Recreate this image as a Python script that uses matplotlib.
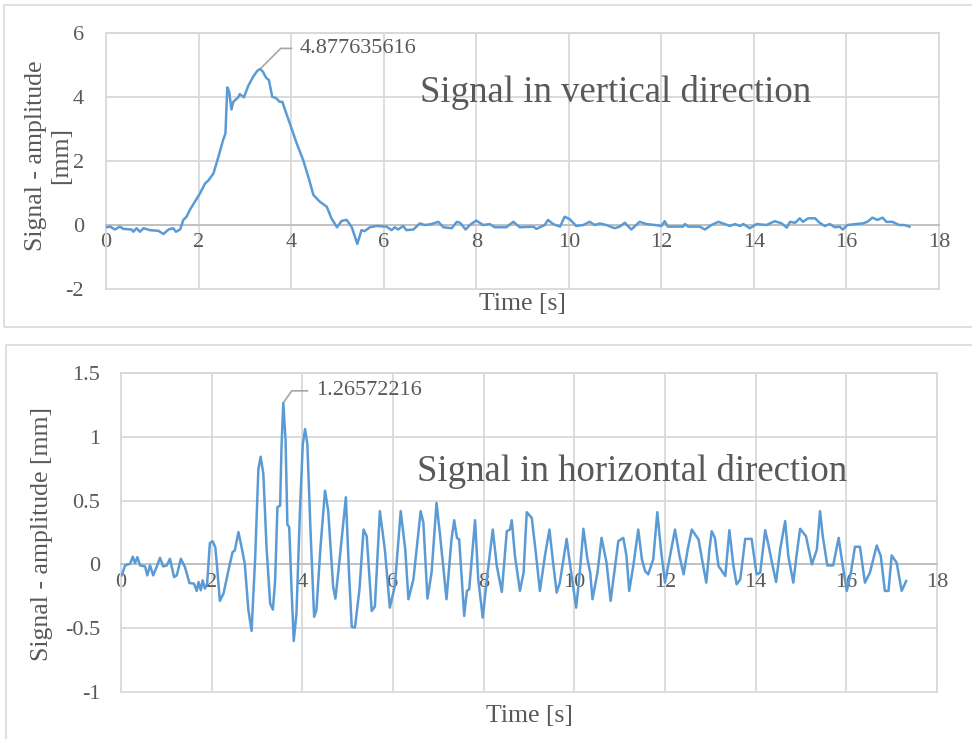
import matplotlib.pyplot as plt
from matplotlib.patches import Rectangle

plt.rcParams['font.family'] = 'Liberation Serif'
plt.rcParams['axes.unicode_minus'] = False

# vertical signal (time [s], amplitude [mm])
t_vert = [0.0, 0.09, 0.19, 0.3, 0.37, 0.55, 0.59, 0.66, 0.73, 0.81, 0.95, 1.13, 1.24, 1.35,
          1.45, 1.51, 1.6, 1.67, 1.74, 1.81, 1.92, 2.03, 2.14, 2.21, 2.32, 2.43, 2.53, 2.58,
          2.62, 2.66, 2.71, 2.75, 2.86, 2.89, 2.98, 3.07, 3.18, 3.27, 3.33, 3.39, 3.46, 3.52,
          3.59, 3.68, 3.75, 3.81, 3.87, 3.97, 4.12, 4.26, 4.39, 4.48, 4.62, 4.77, 4.87, 4.99,
          5.09, 5.2, 5.31, 5.43, 5.52, 5.59, 5.7, 5.85, 6.06, 6.17, 6.24, 6.31, 6.42, 6.49,
          6.64, 6.78, 6.89, 7.03, 7.18, 7.29, 7.47, 7.58, 7.65, 7.77, 7.86, 8.0, 8.15, 8.29,
          8.4, 8.65, 8.8, 8.94, 9.23, 9.3, 9.48, 9.55, 9.66, 9.81, 9.91, 10.02, 10.16, 10.31,
          10.45, 10.56, 10.67, 10.81, 10.99, 11.1, 11.21, 11.35, 11.53, 11.68, 11.86, 12.0,
          12.07, 12.14, 12.47, 12.51, 12.58, 12.83, 12.94, 13.08, 13.23, 13.37, 13.48, 13.59,
          13.7, 13.77, 13.91, 14.06, 14.27, 14.45, 14.6, 14.71, 14.78, 14.89, 14.99, 15.06,
          15.17, 15.32, 15.42, 15.53, 15.64, 15.75, 15.85, 15.92, 16.02, 16.2, 16.35, 16.45,
          16.56, 16.67, 16.78, 16.86, 16.99, 17.14, 17.25, 17.36]
a_vert = [-0.07, -0.05, -0.14, -0.05, -0.12, -0.14, -0.21, -0.1, -0.21, -0.1, -0.16, -0.18,
          -0.28, -0.14, -0.1, -0.21, -0.14, 0.16, 0.26, 0.47, 0.73, 0.99, 1.3, 1.39, 1.61,
          2.14, 2.66, 2.86, 4.3, 4.17, 3.61, 3.85, 4.0, 4.09, 3.99, 4.34, 4.64, 4.82,
          4.877635616, 4.79, 4.6, 4.53, 4.01, 3.96, 3.85, 3.85, 3.59, 3.18, 2.55, 2.03, 1.41,
          0.94, 0.73, 0.57, 0.21, -0.07, 0.13, 0.16, -0.07, -0.59, -0.16, -0.19, -0.07, -0.03,
          -0.05, -0.16, -0.07, -0.14, -0.03, -0.16, -0.14, 0.05, 0.0, 0.03, 0.1, -0.07, -0.1,
          0.1, 0.07, -0.14, 0.0, 0.14, 0.0, 0.03, -0.07, -0.07, 0.1, -0.07, -0.05, -0.12, 0.0,
          0.16, 0.03, -0.05, 0.26, 0.18, -0.03, 0.0, 0.1, 0.0, 0.05, 0.0, -0.1, -0.05, 0.07,
          -0.14, 0.1, 0.03, 0.0, -0.03, 0.12, -0.05, -0.05, 0.03, -0.05, -0.05, -0.14, 0.0,
          0.1, 0.03, -0.03, 0.03, -0.03, 0.03, -0.1, 0.03, 0.0, 0.12, 0.05, -0.08, 0.1, 0.07,
          0.21, 0.1, 0.21, 0.21, 0.07, -0.03, 0.03, -0.07, -0.05, -0.14, 0.0, 0.03, 0.05, 0.1,
          0.23, 0.16, 0.23, 0.1, 0.1, 0.0, 0.0, -0.05]

# horizontal signal (time [s], amplitude [mm])
t_hor = [0.015, 0.09, 0.2, 0.26, 0.31, 0.36, 0.42, 0.53, 0.58, 0.64, 0.71, 0.79, 0.86, 0.93,
         1.01, 1.08, 1.17, 1.23, 1.32, 1.41, 1.51, 1.61, 1.67, 1.71, 1.76, 1.8, 1.85, 1.9,
         1.96, 2.02, 2.08, 2.12, 2.18, 2.26, 2.37, 2.46, 2.51, 2.59, 2.66, 2.73, 2.81, 2.88,
         2.96, 3.03, 3.08, 3.14, 3.21, 3.29, 3.35, 3.4, 3.45, 3.51, 3.54, 3.58, 3.63, 3.67,
         3.71, 3.76, 3.81, 3.87, 3.95, 4.01, 4.06, 4.11, 4.18, 4.26, 4.31, 4.4, 4.5, 4.57,
         4.68, 4.73, 4.82, 4.96, 5.03, 5.09, 5.16, 5.26, 5.35, 5.42, 5.53, 5.6, 5.71, 5.82,
         5.93, 6.04, 6.17, 6.27, 6.34, 6.45, 6.61, 6.67, 6.76, 6.85, 6.96, 7.04, 7.18, 7.29,
         7.35, 7.41, 7.46, 7.57, 7.63, 7.68, 7.81, 7.88, 7.98, 8.07, 8.2, 8.29, 8.4, 8.51,
         8.58, 8.62, 8.69, 8.8, 8.88, 8.95, 9.06, 9.15, 9.24, 9.35, 9.45, 9.54, 9.61, 9.68,
         9.83, 9.9, 10.04, 10.12, 10.2, 10.29, 10.35, 10.4, 10.51, 10.6, 10.71, 10.8, 10.9,
         10.97, 11.08, 11.15, 11.21, 11.3, 11.41, 11.49, 11.56, 11.63, 11.74, 11.83, 11.91,
         12.0, 12.11, 12.22, 12.32, 12.41, 12.5, 12.59, 12.74, 12.83, 12.91, 12.98, 13.03,
         13.1, 13.18, 13.33, 13.42, 13.51, 13.58, 13.66, 13.77, 13.91, 14.02, 14.1, 14.21,
         14.28, 14.36, 14.45, 14.54, 14.65, 14.72, 14.83, 14.9, 14.98, 15.11, 15.24, 15.35,
         15.42, 15.48, 15.58, 15.71, 15.83, 15.9, 16.01, 16.1, 16.19, 16.3, 16.41, 16.52,
         16.67, 16.76, 16.85, 16.93, 17.0, 17.11, 17.22, 17.32]
a_hor = [-0.086, -0.008, 0.005, 0.06, 0.01, 0.057, -0.008, -0.016, -0.086, -0.008, -0.086,
         -0.016, 0.052, -0.016, -0.008, 0.044, -0.099, -0.086, 0.044, -0.021, -0.146, -0.151,
         -0.208, -0.138, -0.203, -0.125, -0.19, -0.151, 0.167, 0.182, 0.135, -0.021, -0.286,
         -0.229, -0.047, 0.096, 0.109, 0.253, 0.135, 0.005, -0.359, -0.521, 0.057, 0.747,
         0.844, 0.708, 0.135, -0.307, -0.354, -0.125, 0.448, 0.461, 0.917, 1.26572216, 0.969,
         0.312, 0.292, -0.177, -0.6, -0.385, 0.448, 0.943, 1.06, 0.943, 0.266, -0.411, -0.359,
         0.135, 0.578, 0.422, -0.177, -0.268, 0.031, 0.526, -0.073, -0.49, -0.495, -0.195,
         0.273, 0.22, -0.365, -0.33, 0.417, 0.117, -0.339, -0.17, 0.417, 0.117, -0.273,
         -0.117, 0.417, 0.326, -0.268, -0.065, 0.482, 0.221, -0.273, 0.195, 0.346, 0.208,
         0.195, -0.404, -0.208, -0.195, 0.346, -0.117, -0.417, -0.117, 0.273, -0.013, -0.216,
         0.26, 0.273, 0.346, 0.065, -0.208, -0.065, 0.409, 0.365, 0.091, -0.208, 0.065, 0.273,
         -0.013, -0.221, -0.143, 0.2, 0.013, -0.339, -0.065, 0.279, 0.039, -0.065, -0.273,
         -0.065, 0.208, 0.013, -0.286, -0.013, 0.182, 0.208, 0.065, -0.208, -0.013, 0.273,
         0.039, -0.052, -0.078, 0.039, 0.409, 0.117, -0.143, 0.065, 0.273, 0.065, -0.078,
         0.117, 0.273, 0.195, 0.013, -0.143, 0.117, 0.26, 0.208, -0.013, -0.091, 0.268, -0.013,
         -0.156, -0.117, 0.2, 0.2, -0.078, -0.065, 0.268, 0.156, 0.013, -0.138, 0.117, 0.339,
         0.065, -0.143, 0.065, 0.279, 0.221, 0.0, 0.117, 0.417, 0.221, -0.008, -0.008, 0.208,
         0.039, -0.208, -0.065, 0.138, 0.138, -0.143, -0.065, 0.148, 0.065, -0.208, -0.208,
         0.07, 0.013, -0.208, -0.13]

x_ticks = [0, 2, 4, 6, 8, 10, 12, 14, 16, 18]
y_ticks_vert = [-2, 0, 2, 4, 6]
y_labels_vert = ['-2', '0', '2', '4', '6']
y_ticks_hor = [-1, -0.5, 0, 0.5, 1, 1.5]
y_labels_hor = ['-1', '-0.5', '0', '0.5', '1', '1.5']

peak_vert = (3.33, 4.877635616)
peak_hor = (3.58, 1.26572216)

line_col = '#5B9BD5'
grid_col = '#D9D9D9'
text_col = '#595959'

fig = plt.figure(figsize=(9.72, 7.39), dpi=100)

# chart area borders
fig.add_artist(Rectangle((0.0041, 0.5575), 1.2, 0.4357, transform=fig.transFigure,
                         fill=False, edgecolor=grid_col, lw=1.2))
fig.add_artist(Rectangle((0.0062, -0.1), 1.2, 0.6332, transform=fig.transFigure,
                         fill=False, edgecolor=grid_col, lw=1.2))

ax1 = fig.add_axes([0.1091, 0.6089, 0.8570, 0.3464])
ax2 = fig.add_axes([0.1245, 0.0636, 0.8395, 0.4317])


def style(ax, yticks, ylabels, ypad):
    ax.set_xlim(0, 18)
    ax.set_ylim(yticks[0], yticks[-1])
    ax.set_xticks(x_ticks)
    ax.set_xticklabels([str(x) for x in x_ticks])
    ax.set_yticks(yticks)
    ax.set_yticklabels(ylabels)
    ax.grid(True, color=grid_col, lw=1.3)
    ax.set_axisbelow(True)
    for gl in ax.get_ygridlines() + ax.get_xgridlines():
        gl.set_clip_on(False)
    for s in ['left', 'right', 'top']:
        ax.spines[s].set_color(grid_col)
        ax.spines[s].set_linewidth(1.3)
    ax.spines['bottom'].set_position(('data', 0))
    ax.spines['bottom'].set_color('#BFBFBF')
    ax.spines['bottom'].set_linewidth(1.3)
    ax.tick_params(length=0, labelsize=16, labelcolor=text_col)
    ax.tick_params(axis='y', pad=ypad)
    ax.tick_params(axis='x', pad=6)


style(ax1, y_ticks_vert, y_labels_vert, 16)
style(ax2, y_ticks_hor, y_labels_hor, 15)

ax1.plot(t_vert, a_vert, color=line_col, lw=1.8, zorder=3, solid_joinstyle='round')
ax2.plot(t_hor, a_hor, color=line_col, lw=1.8, zorder=3, solid_joinstyle='round')

ax1.annotate('4.877635616', xy=peak_vert, xytext=(4.19, 5.52), fontsize=16, color=text_col,
             ha='left', va='center',
             arrowprops=dict(arrowstyle='-', color='#A6A6A6', lw=1.2, shrinkA=4, shrinkB=1,
                             relpos=(0, 0.5), connectionstyle='angle,angleA=0,angleB=45,rad=0'))
ax2.annotate('1.26572216', xy=peak_hor, xytext=(4.3, 1.36), fontsize=16, color=text_col,
             ha='left', va='center',
             arrowprops=dict(arrowstyle='-', color='#A6A6A6', lw=1.2, shrinkA=4, shrinkB=1,
                             relpos=(0, 0.5), connectionstyle='angle,angleA=0,angleB=55,rad=0'))

ax1.text(6.78, 4.15, 'Signal in vertical direction', fontsize=26.5, color=text_col, va='center')
ax2.text(6.53, 0.73, 'Signal in horizontal direction', fontsize=26.5, color=text_col, va='center')

ax1.text(0.5, -0.06, 'Time [s]', transform=ax1.transAxes, fontsize=18.5, color=text_col,
         ha='center', va='center')
ax2.text(0.5, -0.075, 'Time [s]', transform=ax2.transAxes, fontsize=18.5, color=text_col,
         ha='center', va='center')

ax1.set_ylabel('Signal - amplitude\n[mm]', fontsize=18.5, color=text_col, linespacing=1.15)
ax1.yaxis.set_label_coords(-0.041, 0.52)
ax2.set_ylabel('Signal - amplitude [mm]', fontsize=18.5, color=text_col)
ax2.yaxis.set_label_coords(-0.083, 0.495)

fig.savefig('out.png', dpi=100)
